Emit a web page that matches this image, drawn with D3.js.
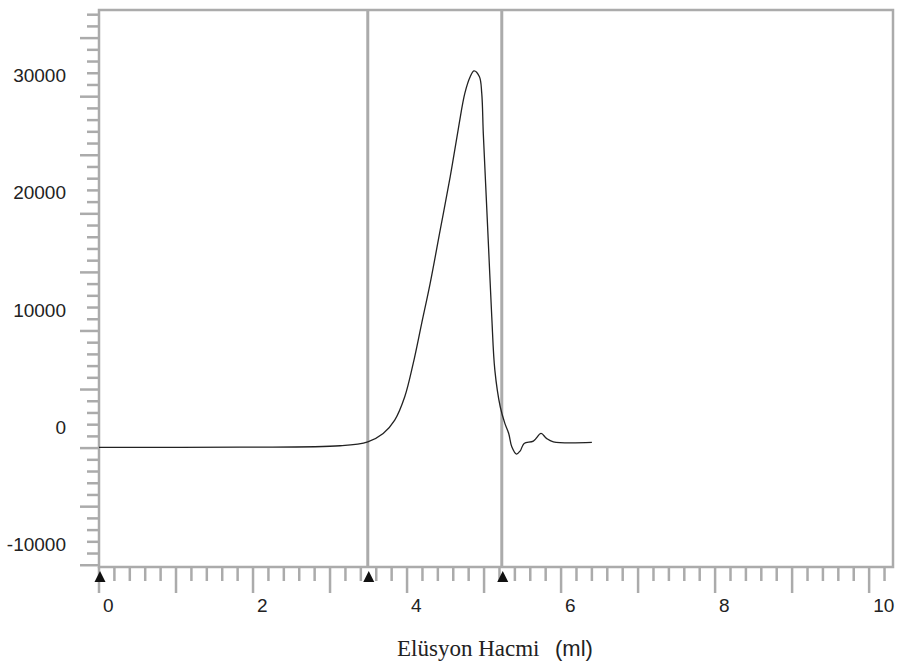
<!DOCTYPE html>
<html>
<head>
<meta charset="utf-8">
<script src="https://cdn.jsdelivr.net/npm/d3@7/dist/d3.min.js"></script>
<style>
  body { margin: 0; background: #fff; }
</style>
</head>
<body>
<div id="chart"></div>
<script>
// elution volume (ml) and detector signal
const volume = [0, 1.83, 3.13, 3.49, 3.69, 3.84, 3.97, 4.08, 4.19, 4.30, 4.43, 4.56, 4.67, 4.75, 4.82, 4.87,
  4.94, 4.97, 4.99, 5.02, 5.06, 5.10, 5.14, 5.21, 5.27, 5.32, 5.36, 5.42, 5.47, 5.52, 5.64, 5.74, 5.81, 5.90, 6.40];
const signal = [60, 85, 200, 540, 1250, 2390, 4380, 7230, 10650, 14060, 18610, 23160, 27430, 30280, 31700, 32210,
  31700, 30280, 26870, 22600, 16900, 11210, 6660, 3530, 2110, 1250, 110, -510, -230, 400, 600, 1250, 830, 540, 490];

const cursors = [0, 3.49, 5.23];
const xLabels = [0, 2, 4, 6, 8, 10];
const yLabels = [-10000, 0, 10000, 20000, 30000];

const width = 898;
const height = 666;
const gray = "#ababab";

const x = d3.scaleLinear().domain([0, 10.31]).range([99, 893]);
const y = d3.scaleLinear().domain([-10150, 37400]).range([567, 10]);

const svg = d3.select("#chart")
  .append("svg")
  .attr("width", width)
  .attr("height", height);

// frame
svg.append("rect")
  .attr("x", x(0))
  .attr("y", y(37400))
  .attr("width", x(10.31) - x(0))
  .attr("height", y(-10150) - y(37400))
  .attr("fill", "none")
  .attr("stroke", gray)
  .attr("stroke-width", 2.5);

// y ticks
const yMinor = d3.range(-10000, 37001, 1000);
svg.append("g")
  .selectAll("line")
  .data(yMinor)
  .enter()
  .append("line")
  .attr("x1", function(d) { return d % 5000 === 0 ? x(0) - 19 : x(0) - 12; })
  .attr("x2", x(0))
  .attr("y1", function(d) { return y(d); })
  .attr("y2", function(d) { return y(d); })
  .attr("stroke", gray)
  .attr("stroke-width", 2.5);

svg.append("g")
  .selectAll("text")
  .data(yLabels)
  .enter()
  .append("text")
  .attr("x", 66)
  .attr("y", function(d) { return y(d) - 21; })
  .attr("dy", "0.35em")
  .attr("text-anchor", "end")
  .attr("fill", "#222")
  .style("font", "19px 'Liberation Sans', Arial, sans-serif")
  .text(function(d) { return d; });

// x ticks
const xMinor = d3.range(0, 10.21, 0.2);
svg.append("g")
  .selectAll("line")
  .data(xMinor)
  .enter()
  .append("line")
  .attr("x1", function(d) { return x(d); })
  .attr("x2", function(d) { return x(d); })
  .attr("y1", y(-10150))
  .attr("y2", function(d) {
    return Math.abs(d - Math.round(d)) < 0.01 ? y(-10150) + 26 : y(-10150) + 14;
  })
  .attr("stroke", gray)
  .attr("stroke-width", 2.5);

svg.append("g")
  .selectAll("text")
  .data(xLabels)
  .enter()
  .append("text")
  .attr("x", function(d) { return x(d) + 4; })
  .attr("y", 612)
  .attr("fill", "#222")
  .style("font", "19px 'Liberation Sans', Arial, sans-serif")
  .text(function(d) { return d; });

// cursor lines
svg.append("g")
  .selectAll("line")
  .data(cursors.slice(1))
  .enter()
  .append("line")
  .attr("x1", function(d) { return x(d); })
  .attr("x2", function(d) { return x(d); })
  .attr("y1", y(37400))
  .attr("y2", y(-10150))
  .attr("stroke", gray)
  .attr("stroke-width", 3);

// cursor markers
svg.append("g")
  .selectAll("path")
  .data(cursors)
  .enter()
  .append("path")
  .attr("d", function(d) {
    const cx = x(d) + 1;
    return "M" + (cx - 5.5) + ",582L" + (cx + 5.5) + ",582L" + cx + ",571Z";
  })
  .attr("fill", "#111");

// chromatogram
const line = d3.line()
  .x(function(d, i) { return x(volume[i]); })
  .y(function(d) { return y(d); })
  .curve(d3.curveCatmullRom.alpha(0.5));

svg.append("path")
  .datum(signal)
  .attr("d", line)
  .attr("fill", "none")
  .attr("stroke", "#222")
  .attr("stroke-width", 1.3);

// axis title
const title = svg.append("text")
  .attr("x", 397)
  .attr("y", 656)
  .attr("fill", "#222");
title.append("tspan")
  .style("font", "23px 'Liberation Serif', 'Times New Roman', serif")
  .text("Elüsyon Hacmi");
title.append("tspan")
  .attr("x", 555)
  .style("font", "22px 'Liberation Sans', Arial, sans-serif")
  .text("(ml)");
</script>
</body>
</html>
